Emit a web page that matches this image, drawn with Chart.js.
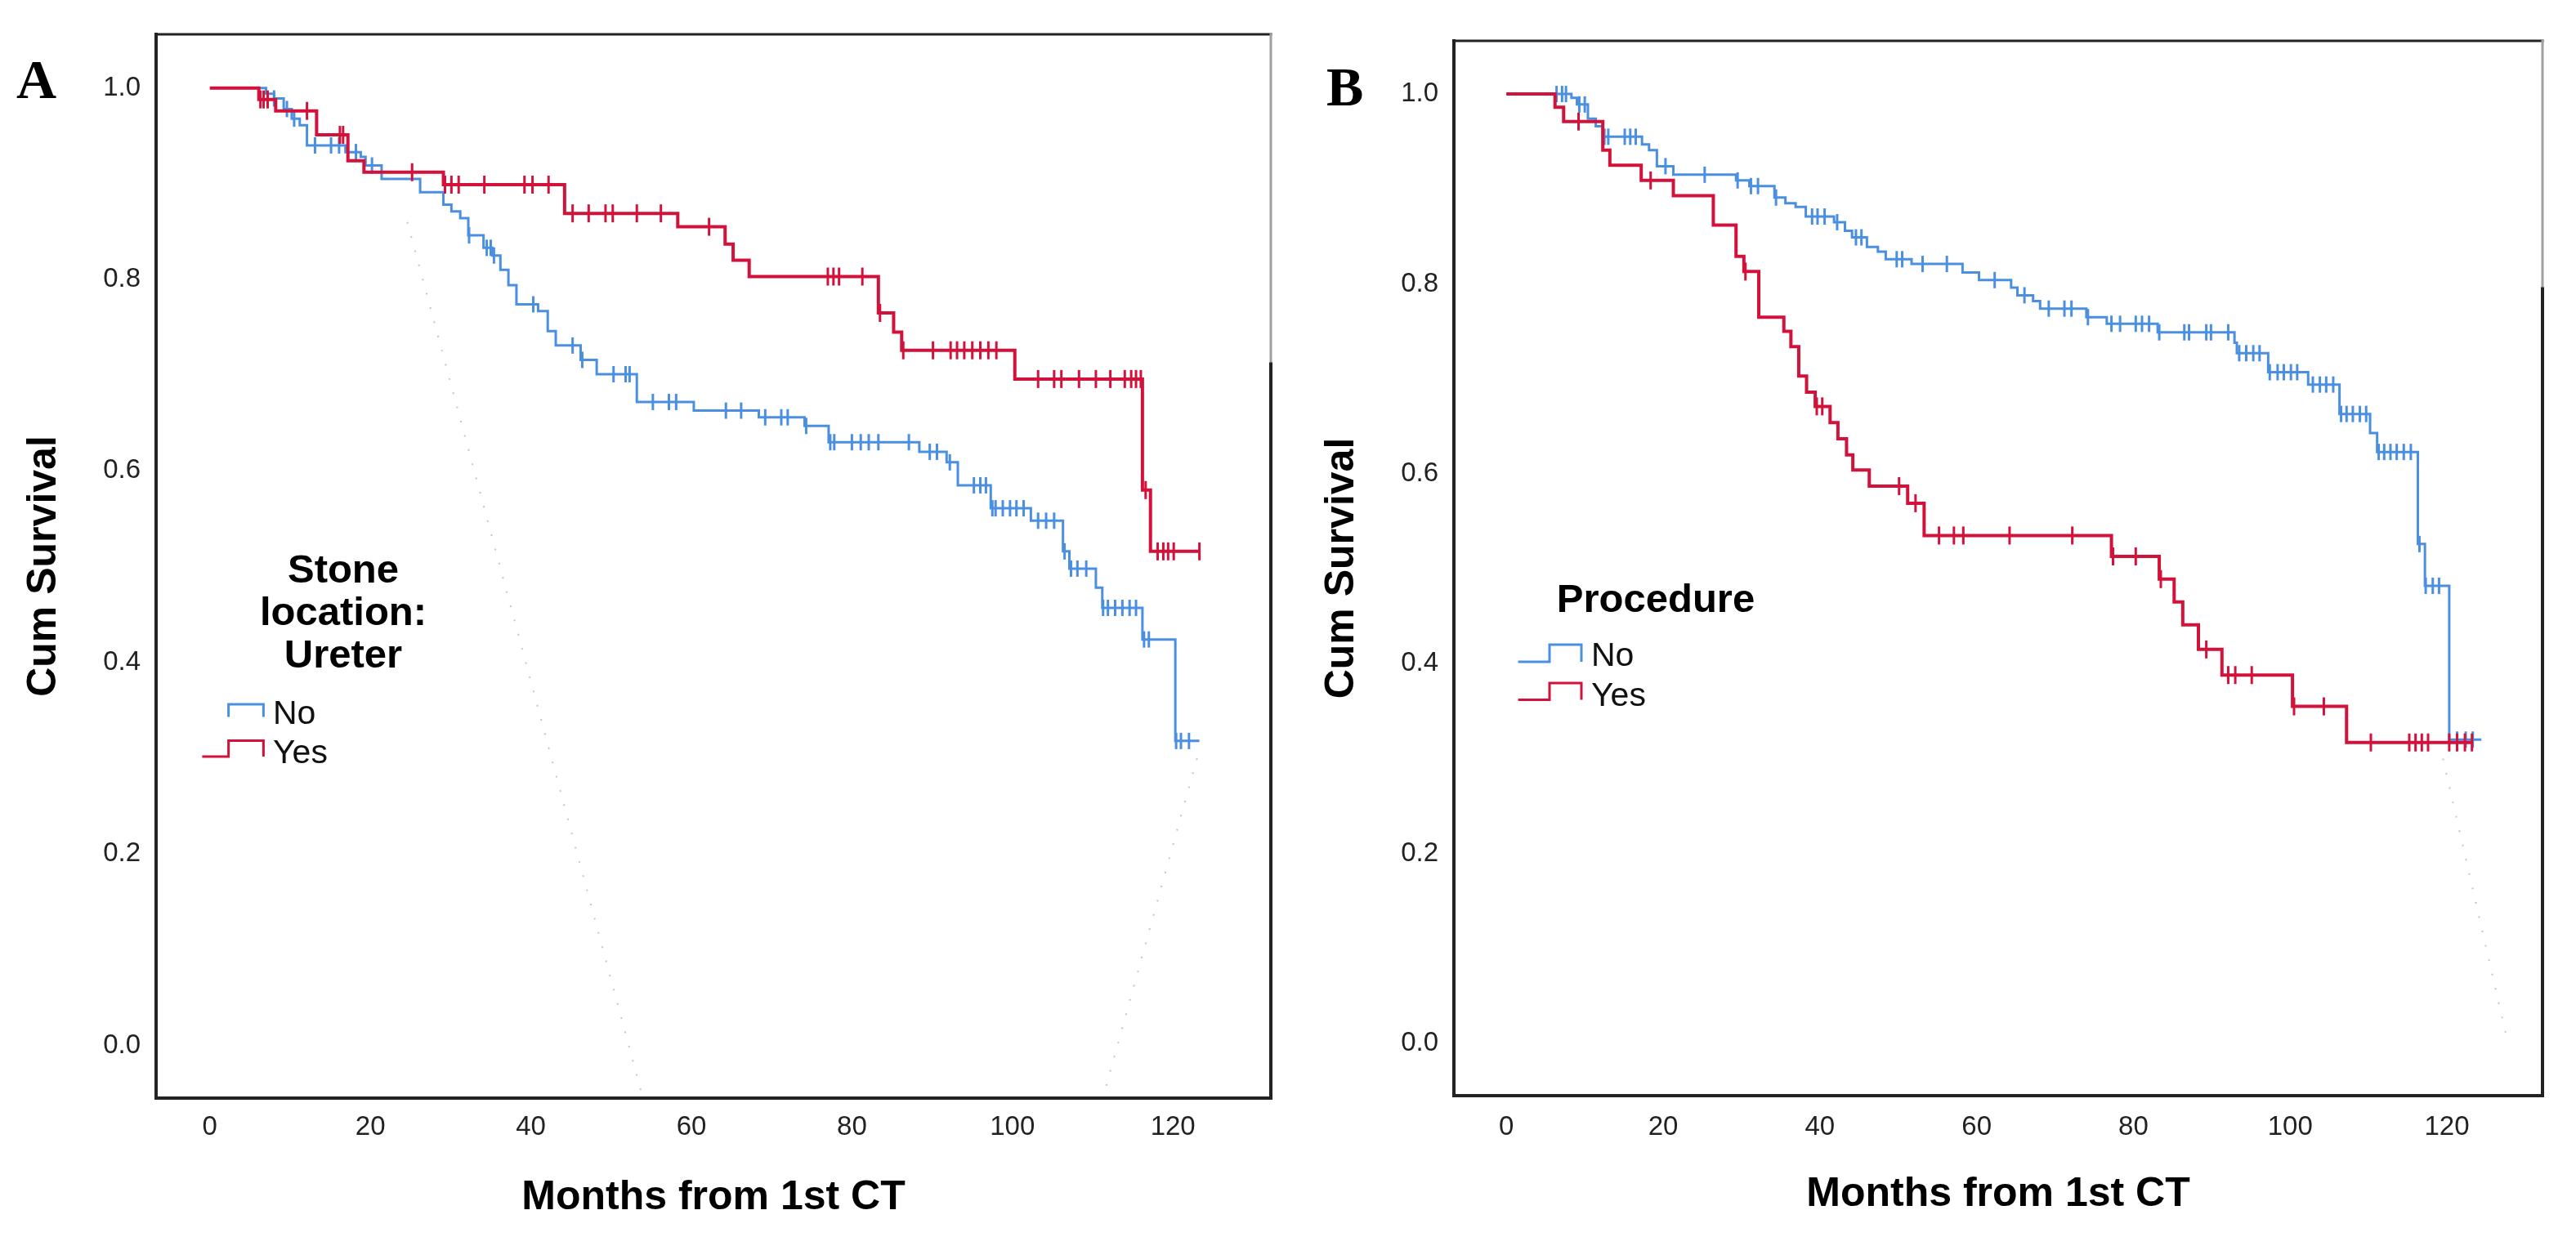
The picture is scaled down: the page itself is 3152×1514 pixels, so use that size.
<!DOCTYPE html>
<html>
<head>
<meta charset="utf-8">
<title>Cum Survival - Months from 1st CT</title>
<script src="https://cdn.jsdelivr.net/npm/chart.js@4.4.1/dist/chart.umd.min.js"></script>
<style>
  html, body { margin: 0; padding: 0; background: #fff; }
  body { width: 3152px; height: 1514px; position: relative; overflow: hidden; }
  .panel { position: absolute; top: 0; height: 1514px; }
  #panelA { left: 0; width: 1580px; }
  #panelB { left: 1588px; width: 1564px; }
</style>
</head>
<body>
<div class="panel" id="panelA"><canvas id="chartA"></canvas></div>
<div class="panel" id="panelB"><canvas id="chartB"></canvas></div>
<script>
// tick labels shared by both panels
const xTicks = [0, 20, 40, 60, 80, 100, 120];
const yTicks = [0.0, 0.2, 0.4, 0.6, 0.8, 1.0];
const groups = ['No', 'Yes'];

// ---- Panel A: Stone location: Ureter ----
// event times (months) and survival right after each event
const aNoTimes = [0, 7.0, 8.0, 9.2, 10.2, 11.2, 12.1, 16.9, 18.8, 19.4, 21.4, 26.2, 29.1, 30.1, 31.2, 32.2, 34.1, 35.2, 36.2, 37.2, 38.2, 40.9, 42.1, 43.1, 46.2, 48.2, 53.2, 60.3, 68.4, 74.1, 77.1, 88.4, 91.8, 93.2, 97.3, 102.3, 106.3, 107.1, 110.4, 111.2, 116.2, 120.3];
const aNoSurv = [1.000, 0.994, 0.989, 0.978, 0.968, 0.961, 0.940, 0.933, 0.928, 0.919, 0.905, 0.891, 0.878, 0.871, 0.864, 0.846, 0.833, 0.825, 0.810, 0.794, 0.774, 0.767, 0.746, 0.731, 0.716, 0.701, 0.672, 0.663, 0.656, 0.647, 0.630, 0.620, 0.609, 0.585, 0.561, 0.548, 0.516, 0.498, 0.478, 0.457, 0.424, 0.318];
const aNoCensored = [8.0, 9.6, 10.5, 13.1, 15.1, 16.1, 18.2, 20.2, 32.3, 34.5, 35.0, 35.4, 40.3, 45.2, 46.4, 50.3, 51.8, 52.3, 55.2, 57.2, 58.1, 64.3, 66.2, 69.2, 71.2, 72.0, 74.3, 77.3, 77.8, 80.0, 81.1, 82.1, 83.3, 87.1, 89.7, 90.6, 92.2, 95.2, 96.0, 96.7, 97.5, 97.9, 98.8, 99.7, 100.5, 101.4, 103.2, 104.2, 105.2, 106.5, 107.3, 108.1, 109.2, 111.3, 111.9, 112.8, 113.7, 114.6, 115.4, 116.4, 117.0, 120.4, 121.0, 122.0];
const aNoEnd = 123.3;

const aYesTimes = [0, 6.1, 8.2, 13.3, 17.2, 19.2, 29.1, 44.2, 58.3, 64.2, 65.2, 67.2, 83.3, 85.2, 86.2, 100.3, 116.2, 117.2];
const aYesSurv = [1.000, 0.988, 0.976, 0.951, 0.924, 0.912, 0.899, 0.869, 0.855, 0.837, 0.820, 0.803, 0.765, 0.745, 0.726, 0.696, 0.580, 0.516];
const aYesCensored = [6.3, 6.7, 7.2, 12.1, 16.2, 16.6, 25.2, 29.3, 30.1, 31.0, 34.2, 39.2, 40.2, 42.2, 45.2, 47.2, 49.3, 50.2, 53.2, 56.2, 62.2, 77.0, 77.7, 78.4, 81.3, 83.5, 86.4, 90.1, 92.3, 93.1, 94.0, 95.0, 96.0, 97.0, 98.0, 103.2, 105.2, 106.1, 108.3, 110.4, 112.2, 114.0, 114.8, 115.4, 116.0, 116.6, 118.1, 118.8, 119.4, 120.1, 123.3];
const aYesEnd = 123.3;

// faint dotted reference lines seen in panel A
const aRef1X = [24.6, 53.8];
const aRef1Y = [0.86, -0.05];
const aRef2X = [123.0, 111.6];
const aRef2Y = [0.30, -0.045];

// ---- Panel B: Procedure ----
const bNoTimes = [0, 8.3, 9.0, 10.4, 11.4, 12.3, 17.3, 18.2, 19.2, 21.3, 29.3, 31.0, 34.2, 35.6, 36.9, 38.2, 41.8, 43.2, 44.1, 46.0, 47.4, 48.4, 51.7, 58.2, 60.3, 64.4, 65.2, 67.2, 68.1, 74.0, 76.6, 83.1, 92.9, 93.2, 97.2, 102.3, 106.3, 110.2, 111.1, 116.3, 117.2, 120.3];
const bNoSurv = [1.000, 0.996, 0.989, 0.974, 0.966, 0.955, 0.947, 0.941, 0.924, 0.915, 0.909, 0.903, 0.891, 0.885, 0.881, 0.871, 0.865, 0.856, 0.849, 0.839, 0.834, 0.826, 0.821, 0.812, 0.804, 0.796, 0.788, 0.782, 0.774, 0.765, 0.758, 0.749, 0.738, 0.727, 0.707, 0.694, 0.663, 0.643, 0.623, 0.526, 0.482, 0.320];
const bNoCensored = [6.4, 7.1, 7.6, 9.3, 10.0, 12.5, 13.0, 15.1, 15.8, 16.5, 20.3, 25.3, 29.5, 31.2, 32.1, 34.4, 39.0, 39.7, 40.6, 42.2, 44.6, 45.3, 49.8, 50.5, 53.1, 56.2, 62.3, 66.1, 69.2, 71.2, 72.1, 74.2, 77.2, 78.3, 80.3, 81.1, 82.0, 83.3, 86.5, 87.1, 89.3, 89.9, 92.1, 93.5, 94.4, 95.3, 96.1, 97.4, 98.4, 99.2, 100.1, 100.9, 102.9, 103.8, 104.6, 105.5, 106.5, 107.2, 108.0, 108.9, 109.7, 111.3, 112.0, 112.8, 113.6, 114.5, 115.4, 116.5, 117.3, 118.2, 119.0, 121.3, 122.4, 123.3];
const bNoEnd = 124.4;

const bYesTimes = [0, 6.2, 7.3, 12.3, 13.2, 17.2, 21.3, 26.4, 29.3, 30.3, 32.2, 35.4, 36.3, 37.3, 38.3, 39.4, 41.3, 42.3, 43.4, 44.2, 46.3, 51.2, 53.3, 77.2, 83.3, 85.2, 86.3, 88.3, 91.3, 100.3, 107.2];
const bYesSurv = [1.000, 0.986, 0.971, 0.941, 0.925, 0.909, 0.893, 0.862, 0.829, 0.813, 0.765, 0.750, 0.734, 0.703, 0.686, 0.671, 0.654, 0.637, 0.620, 0.604, 0.587, 0.569, 0.535, 0.513, 0.489, 0.465, 0.441, 0.415, 0.388, 0.355, 0.317];
const bYesCensored = [9.2, 18.4, 30.5, 39.6, 40.3, 50.1, 52.2, 55.2, 57.1, 58.3, 64.2, 72.2, 77.4, 80.3, 83.5, 89.3, 92.1, 93.0, 95.1, 100.5, 104.3, 110.3, 115.2, 116.0, 116.8, 117.6, 120.3, 121.3, 122.3, 123.2];
const bYesEnd = 123.2;

const bRef1X = [119.5, 127.8];
const bRef1Y = [0.30, 0.0];

const blue = '#4a8fe0';
const red = '#d3123b';
const sans = "'Liberation Sans', Arial, sans-serif";

// survival value of a step curve at time t
function survAt(times, surv, t) {
  let s = surv[0];
  for (let i = 0; i < times.length; i++) {
    if (times[i] <= t) s = surv[i];
  }
  return s;
}

function curveSets(label, color, width, tick, times, surv, cens, end) {
  const steps = times.map((t, i) => ({ x: t, y: surv[i] }));
  steps.push({ x: end, y: surv[surv.length - 1] });
  return [
    {
      label: label,
      data: steps,
      stepped: 'before',
      borderColor: color,
      borderWidth: width,
      pointRadius: 0,
      fill: false
    },
    {
      label: label + ' censored',
      data: cens.map(t => ({ x: t, y: survAt(times, surv, t) })),
      showLine: false,
      pointStyle: 'line',
      pointRotation: 90,
      pointRadius: tick,
      pointBorderWidth: 3,
      pointBorderColor: color,
      borderColor: color
    }
  ];
}

function refSet(xs, ys) {
  return {
    label: 'ref',
    data: xs.map((x, i) => ({ x: x, y: ys[i] })),
    borderColor: 'rgba(150,150,150,0.55)',
    borderWidth: 2,
    borderDash: [2, 16],
    pointRadius: 0,
    fill: false
  };
}

// frame, panel letter and the step legend
const decor = {
  id: 'decor',
  afterDraw(chart, args, o) {
    const ctx = chart.ctx;
    const { left, top, right, bottom } = chart.chartArea;
    ctx.save();
    ctx.lineCap = 'square';
    ctx.strokeStyle = '#222';
    ctx.lineWidth = 3;
    ctx.beginPath(); ctx.moveTo(left, top); ctx.lineTo(right, top); ctx.stroke();
    ctx.lineWidth = 4;
    ctx.beginPath(); ctx.moveTo(left, top); ctx.lineTo(left, bottom); ctx.lineTo(right, bottom); ctx.stroke();
    const split = top + (bottom - top) * o.rightSplit;
    ctx.strokeStyle = '#a0a0a0';
    ctx.lineWidth = 3;
    ctx.beginPath(); ctx.moveTo(right, top); ctx.lineTo(right, split); ctx.stroke();
    ctx.strokeStyle = '#222';
    ctx.lineWidth = 4;
    ctx.beginPath(); ctx.moveTo(right, split); ctx.lineTo(right, bottom); ctx.stroke();

    // panel letter
    ctx.fillStyle = '#000';
    ctx.font = "bold 68px 'Liberation Serif', 'Times New Roman', serif";
    ctx.textAlign = 'left';
    ctx.textBaseline = 'alphabetic';
    ctx.fillText(o.letter, o.letterX, o.letterY);

    // legend title
    ctx.font = 'bold 49px ' + sans;
    ctx.textAlign = 'center';
    o.legendTitle.forEach((line, i) => {
      ctx.fillText(line, o.titleX, o.titleY + i * 52);
    });

    // legend entries
    ctx.font = '41px ' + sans;
    ctx.textAlign = 'left';
    ctx.lineCap = 'butt';
    ctx.lineWidth = 3;
    o.items.forEach(item => {
      ctx.strokeStyle = item.color;
      ctx.beginPath();
      item.path.forEach((p, i) => (i ? ctx.lineTo(p[0], p[1]) : ctx.moveTo(p[0], p[1])));
      ctx.stroke();
      ctx.fillStyle = '#111';
      ctx.fillText(item.text, item.x, item.y);
    });
    ctx.restore();
  }
};

function makeChart(id, datasets, pad, xAxisHeight, tickPad, titlePad, decorOpts) {
  return new Chart(document.getElementById(id), {
    type: 'line',
    data: { datasets: datasets },
    plugins: [decor],
    options: {
      responsive: true,
      maintainAspectRatio: false,
      animation: false,
      events: [],
      layout: { padding: pad },
      plugins: {
        legend: { display: false },
        tooltip: { enabled: false },
        decor: decorOpts
      },
      scales: {
        x: {
          type: 'linear',
          min: -6.7,
          max: 132.2,
          grid: { display: false, drawTicks: false },
          border: { display: false },
          afterBuildTicks: s => { s.ticks = xTicks.map(v => ({ value: v })); },
          afterFit: s => { s.height = xAxisHeight; },
          ticks: {
            padding: tickPad,
            autoSkip: false,
            maxRotation: 0,
            color: '#222',
            font: { family: sans, size: 33 },
            callback: v => String(v)
          },
          title: {
            display: true,
            text: 'Months from 1st CT',
            color: '#000',
            font: { family: sans, size: 50, weight: 'bold' },
            padding: { top: 0, bottom: titlePad }
          }
        },
        y: {
          min: -0.055,
          max: 1.056,
          grid: { display: false, drawTicks: false },
          border: { display: false },
          afterBuildTicks: s => { s.ticks = yTicks.map(v => ({ value: v })); },
          afterFit: s => { s.width = 191; },
          ticks: {
            padding: 19,
            color: '#222',
            font: { family: sans, size: 33 },
            callback: v => v.toFixed(1)
          },
          title: {
            display: true,
            text: 'Cum Survival',
            color: '#000',
            font: { family: sans, size: 50, weight: 'bold' },
            padding: { top: 24, bottom: 0 }
          }
        }
      }
    }
  });
}

const dataA = [].concat(
  curveSets(groups[1], red, 4, 11, aYesTimes, aYesSurv, aYesCensored, aYesEnd),
  curveSets(groups[0], blue, 3, 10, aNoTimes, aNoSurv, aNoCensored, aNoEnd),
  [refSet(aRef1X, aRef1Y), refSet(aRef2X, aRef2Y)]
);

const dataB = [].concat(
  curveSets(groups[1], red, 4, 11, bYesTimes, bYesSurv, bYesCensored, bYesEnd),
  curveSets(groups[0], blue, 3, 10, bNoTimes, bNoSurv, bNoCensored, bNoEnd),
  [refSet(bRef1X, bRef1Y)]
);

makeChart('chartA', dataA, { top: 42, right: 25, left: 0, bottom: 0 }, 170, 16, 18, {
  letter: 'A', letterX: 20, letterY: 120, rightSplit: 0.31,
  legendTitle: ['Stone', 'location:', 'Ureter'], titleX: 420, titleY: 713,
  items: [
    { text: groups[0], color: blue, x: 334, y: 886,
      path: [[279.6, 877.6], [279.6, 862], [322.4, 862], [322.4, 877.6]] },
    { text: groups[1], color: red, x: 334, y: 934,
      path: [[247.4, 926], [279.6, 926], [279.6, 906.6], [322.4, 906.6], [322.4, 926]] }
  ]
});

makeChart('chartB', dataB, { top: 50, right: 41, left: 0, bottom: 0 }, 173, 19, 22, {
  letter: 'B', letterX: 35, letterY: 129, rightSplit: 0.235,
  legendTitle: ['Procedure'], titleX: 438, titleY: 749,
  items: [
    { text: groups[0], color: blue, x: 359, y: 815,
      path: [[269.6, 810], [308, 810], [308, 789], [347, 789], [347, 810]] },
    { text: groups[1], color: red, x: 359, y: 864,
      path: [[269.6, 856.6], [308, 856.6], [308, 836], [347, 836], [347, 856.6]] }
  ]
});
</script>
</body>
</html>
